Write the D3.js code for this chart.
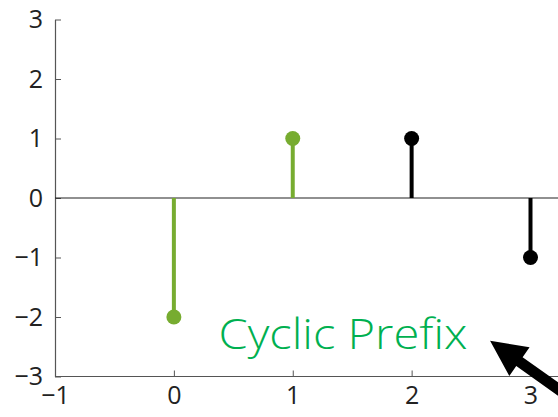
<!DOCTYPE html>
<html><head><meta charset="utf-8">
<script src="https://cdn.jsdelivr.net/npm/d3@7"></script>
<style>body{margin:0;background:#fff}svg{display:block}</style>
</head><body>
<svg id="c" width="558" height="417"></svg>
<script>
const xValues = [0, 1, 2, 3];
const yValues = [-2, 1, 1, -1];
const seriesGroup = ["prefix", "prefix", "symbol", "symbol"];
const groupColors = {prefix: "#77ac30", symbol: "#000000"};
const xTicks = [-1, 0, 1, 2, 3];
const yTicks = [-3, -2, -1, 0, 1, 2, 3];
const annotationText = "Cyclic Prefix";
const annotationPos = [0.375, -2.53];
const arrowTip = [2.66, -2.40];
const arrowTail = [3.33, -3.35];

const svg = d3.select("#c");
const x = d3.scaleLinear().domain([-1, 3]).range([55, 530.5]);
const y = d3.scaleLinear().domain([-3, 3]).range([376.5, 19.5]);
const fmt = d => d < 0 ? "\u2212" + Math.abs(d) : String(d);

// y axis
const ya = svg.append("g").attr("transform", "translate(55,0)")
  .call(d3.axisLeft(y).tickValues(yTicks).tickSizeInner(-6).tickSizeOuter(0).tickPadding(12).tickFormat(fmt));
ya.select(".domain").attr("stroke", "#555").attr("stroke-width", 1.2);
ya.selectAll(".tick line").attr("stroke", "#555");
ya.selectAll("text").attr("font-family", "Open Sans").attr("font-size", 25).attr("fill", "#222");

// x axis extended to right edge
const xa = svg.append("g").attr("transform", "translate(0,376.5)")
  .call(d3.axisBottom(x).tickValues(xTicks).tickSizeInner(-6).tickSizeOuter(0).tickPadding(10).tickFormat(fmt));
xa.select(".domain").remove();
xa.append("line").attr("x1", x(-1)).attr("x2", 558).attr("stroke", "#555").attr("stroke-width", 1.2);
xa.selectAll(".tick line").attr("stroke", "#555");
xa.selectAll("text").attr("font-family", "Open Sans").attr("font-size", 25).attr("fill", "#222");

// zero baseline
svg.append("line").attr("x1", x(-1)).attr("x2", 558).attr("y1", y(0)).attr("y2", y(0))
  .attr("stroke", "#222").attr("stroke-width", 1.2);

const data = xValues.map((v, i) => ({x: v, y: yValues[i], g: seriesGroup[i]}));
svg.selectAll(".stem").data(data).join("line")
  .attr("x1", d => x(d.x)).attr("x2", d => x(d.x))
  .attr("y1", y(0)).attr("y2", d => y(d.y))
  .attr("stroke", d => groupColors[d.g]).attr("stroke-width", 4);
svg.selectAll(".mk").data(data).join("circle")
  .attr("cx", d => x(d.x)).attr("cy", d => y(d.y)).attr("r", 7.5)
  .attr("fill", d => groupColors[d.g]);

// annotation text
svg.append("text").attr("x", x(annotationPos[0])).attr("y", y(annotationPos[1]))
  .attr("font-family", "Open Sans").attr("font-weight", 300).attr("font-size", 42)
  .attr("fill", "#00b050").attr("textLength", 249).attr("lengthAdjust", "spacingAndGlyphs")
  .text(annotationText);

// arrow
const tx = x(arrowTip[0]), ty = y(arrowTip[1]);
const ex = x(arrowTail[0]), ey = y(arrowTail[1]);
const ang = Math.atan2(ey - ty, ex - tx);
const len = Math.hypot(ex - tx, ey - ty);
const headL = 36, headW = 35, shaftW = 11;
const pts = [
  [0, 0], [headL, -headW / 2], [headL, -shaftW / 2], [len, -shaftW / 2],
  [len, shaftW / 2], [headL, shaftW / 2], [headL, headW / 2]
];
svg.append("polygon")
  .attr("points", pts.map(p => p.join(",")).join(" "))
  .attr("transform", `translate(${tx},${ty}) rotate(${ang * 180 / Math.PI})`)
  .attr("fill", "#000");
</script>
</body></html>
